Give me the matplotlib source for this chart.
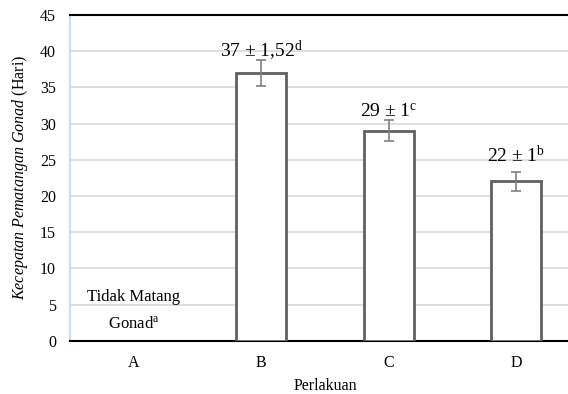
import numpy as np
import matplotlib.pyplot as plt

plt.rcParams['font.family'] = ['Liberation Serif', 'DejaVu Serif']
plt.rcParams['mathtext.fontset'] = 'custom'
plt.rcParams['mathtext.rm'] = 'Liberation Serif'
plt.rcParams['mathtext.it'] = 'Liberation Serif:italic'

categories = ['A', 'B', 'C', 'D']
values = [0, 37, 29, 22]
errors = [0, 1.85, 1.45, 1.35]
labels = ['Tidak Matang\nGonad$^{\\mathrm{a}}$',
          '37 ± 1,52$^{\\mathrm{d}}$',
          '29 ± 1$^{\\mathrm{c}}$',
          '22 ± 1$^{\\mathrm{b}}$']
label_y = [4.2, 40.0, 31.6, 25.6]

fig = plt.figure(figsize=(5.68, 3.94), dpi=100)
# plot area runs past the right edge of the picture, as in the original crop
ax = fig.add_axes([70 / 568, 1 - 340.7 / 394, 510 / 568, 325.7 / 394])

x = np.arange(len(categories))
ax.bar(x[1:], values[1:], width=0.39, color='white', edgecolor='#606060',
       linewidth=2, zorder=3)
ax.errorbar(x[1:], values[1:], yerr=errors[1:], fmt='none', ecolor='#7f7f7f',
            elinewidth=1.2, capsize=3.5, capthick=1.2, zorder=4)

for i, (lab, ly) in enumerate(zip(labels, label_y)):
    if i == 0:
        ax.text(x[i], ly, lab, ha='center', va='center', fontsize=12,
                linespacing=1.9, zorder=5)
    else:
        ax.text(x[i], ly, lab, ha='center', va='center', fontsize=14, zorder=5)

ax.set_xlim(-0.5, 3.5)
ax.set_ylim(0, 45)
ax.set_yticks(range(0, 50, 5))
ax.set_xticks(x)
ax.set_xticklabels(categories)
ax.tick_params(axis='both', length=0, labelsize=11.5)
ax.tick_params(axis='x', pad=10)
ax.tick_params(axis='y', pad=10)
ax.yaxis.grid(True, color='#d9d9d9', linewidth=1.2, zorder=0)
ax.set_axisbelow(True)

ax.spines['top'].set_color('black')
ax.spines['top'].set_linewidth(1.5)
ax.spines['bottom'].set_color('black')
ax.spines['bottom'].set_linewidth(1.5)
ax.spines['left'].set_color('#bdd7ee')
ax.spines['left'].set_linewidth(1.2)
ax.spines['right'].set_visible(False)

ax.set_xlabel('Perlakuan', fontsize=11.5, labelpad=5)
ax.set_ylabel('$\\mathit{Kecepatan\\ Pematangan\\ Gonad}$ (Hari)', fontsize=11.5,
              labelpad=7)

fig.savefig('out.png', dpi=100)
